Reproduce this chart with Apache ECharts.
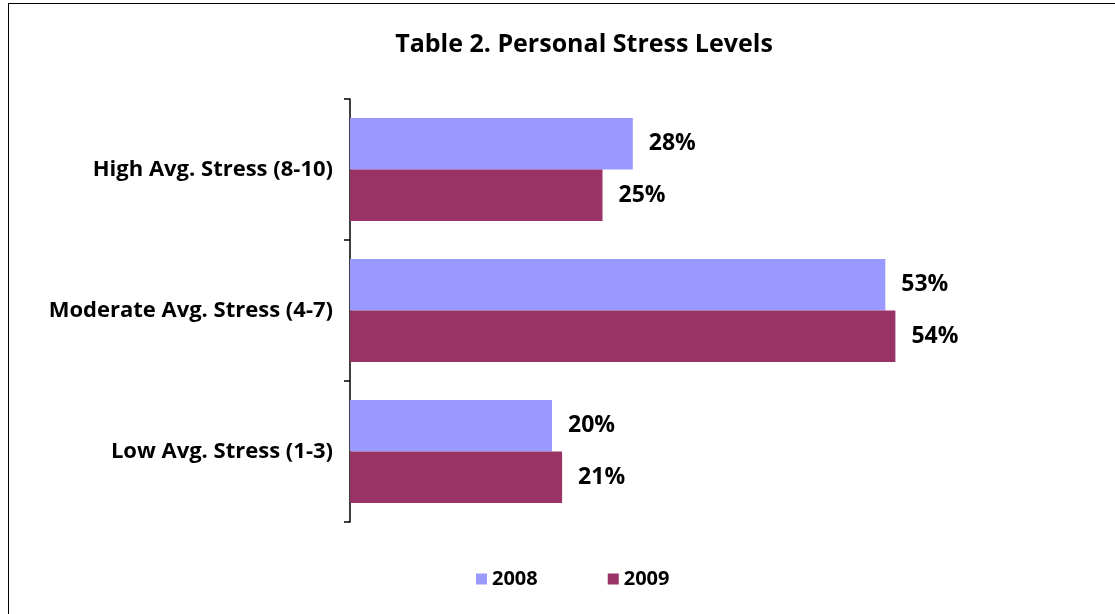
<!DOCTYPE html>
<html>
<head>
<meta charset="utf-8">
<script src="https://cdn.jsdelivr.net/npm/echarts@6/dist/echarts.min.js"></script>
<style>
html,body{margin:0;padding:0;background:#fff;}
#frame{position:absolute;left:8px;top:3px;width:1200px;height:700px;border:1px solid #000;box-sizing:border-box;}
#c{position:absolute;left:0;top:0;width:1115px;height:614px;}
</style>
</head>
<body>
<div id="frame"></div>
<div id="c"></div>
<script>
const categories = ['High Avg. Stress (8-10)', 'Moderate Avg. Stress (4-7)', 'Low Avg. Stress (1-3)'];
const seriesNames = ['2008', '2009'];
const values2008 = [28, 53, 20];
const values2009 = [25, 54, 21];

const FONT = '"Open Sans", "Noto Sans", sans-serif';
const chart = echarts.init(document.getElementById('c'));
const labelStyle = {
  show: true, position: 'right', distance: 16,
  formatter: p => p.value + '%',
  fontFamily: FONT, fontWeight: 'bold', fontSize: 23, color: '#000'
};
chart.setOption({
  animation: false,
  title: {
    text: 'Table 2. Personal Stress Levels',
    left: 579, top: 27, textAlign: 'center',
    textStyle: { fontFamily: FONT, fontWeight: 'bold', fontSize: 25, color: '#000' }
  },
  legend: {
    data: seriesNames,
    left: 471, top: 564,
    itemWidth: 11, itemHeight: 11, itemGap: 70,
    icon: 'rect',
    textStyle: { fontFamily: FONT, fontWeight: 'bold', fontSize: 20, color: '#000' }
  },
  grid: { left: 350, right: 159, top: 99, bottom: 92, containLabel: false },
  xAxis: {
    type: 'value', min: 0, max: 60, show: false
  },
  yAxis: {
    type: 'category', data: categories, inverse: true,
    axisLine: { show: true, lineStyle: { color: '#000', width: 1.5 } },
    axisTick: { show: true, length: 6, lineStyle: { color: '#000', width: 1.5 } },
    axisLabel: { fontFamily: FONT, fontWeight: 'bold', fontSize: 22, color: '#000', margin: 17 }
  },
  series: [
    { name: '2008', type: 'bar', data: values2008, barGap: '0%', barCategoryGap: '27%',
      itemStyle: { color: '#9999FF' }, label: labelStyle },
    { name: '2009', type: 'bar', data: values2009, barGap: '0%', barCategoryGap: '27%',
      itemStyle: { color: '#993366' }, label: labelStyle }
  ]
});
</script>
</body>
</html>
